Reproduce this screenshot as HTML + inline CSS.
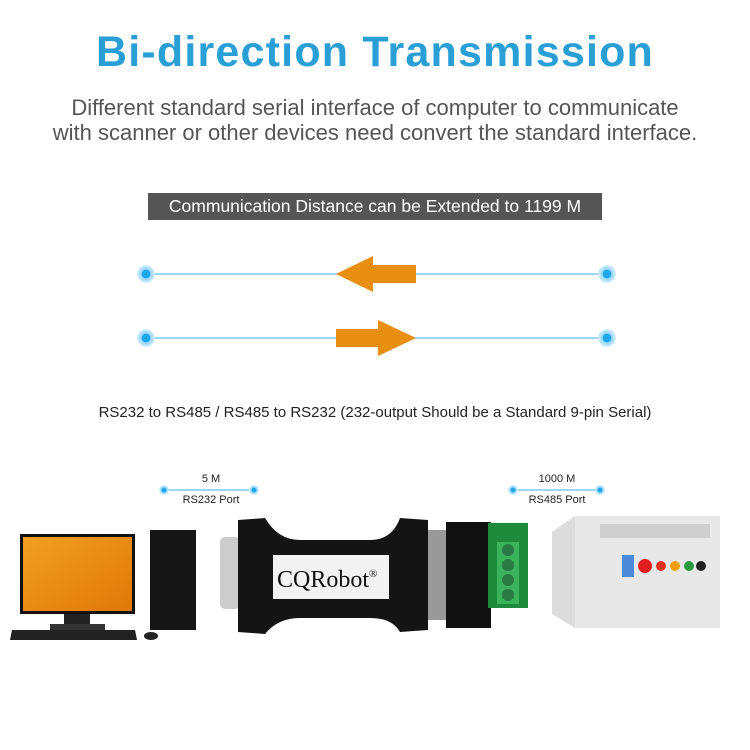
<!DOCTYPE html>
<html><head><style>
body{margin:0;width:750px;height:750px;background:#fff;position:relative;overflow:hidden;font-family:"Liberation Sans",sans-serif}
.a{position:absolute}
</style></head><body>
<div class="a" style="left:0;width:750px;top:28px;text-align:center;font-size:43px;font-weight:bold;color:#2a9fd6;letter-spacing:1.2px">Bi-direction Transmission</div>
<div class="a" style="left:0;width:750px;top:95px;text-align:center;font-size:22px;color:#555;line-height:25px;white-space:nowrap">Different standard serial interface of computer to communicate<br>with scanner or other devices need convert the standard interface.</div>
<div class="a" style="left:148px;top:193px;width:454px;height:27px;background:#555;color:#fff;font-size:17.5px;text-align:center;line-height:27px;white-space:nowrap">Communication Distance can be Extended to 1199 M</div>
<svg class="a" style="left:0;top:0" width="750" height="750">
<defs><radialGradient id="g"><stop offset="0.45" stop-color="#1ea7ea"/><stop offset="0.5" stop-color="#8fd3f5"/><stop offset="1" stop-color="#d9f1fc"/></radialGradient></defs>
<line x1="146" y1="274" x2="607" y2="274" stroke="#7cccf0" stroke-width="1.5"/>
<line x1="146" y1="338" x2="607" y2="338" stroke="#7cccf0" stroke-width="1.5"/>
<circle cx="146" cy="274" r="9" fill="url(#g)"/><circle cx="607" cy="274" r="9" fill="url(#g)"/>
<circle cx="146" cy="338" r="9" fill="url(#g)"/><circle cx="607" cy="338" r="9" fill="url(#g)"/>
<polygon points="336,274 373,256 373,265 416,265 416,283 373,283 373,292" fill="#e88e10"/>
<polygon points="416,338 378,320 378,329 336,329 336,347 378,347 378,356" fill="#e88e10"/>
<line x1="164" y1="490" x2="254" y2="490" stroke="#7cccf0" stroke-width="1.5"/>
<circle cx="164" cy="490" r="5" fill="url(#g)"/><circle cx="254" cy="490" r="5" fill="url(#g)"/>
<line x1="513" y1="490" x2="600" y2="490" stroke="#7cccf0" stroke-width="1.5"/>
<circle cx="513" cy="490" r="5" fill="url(#g)"/><circle cx="600" cy="490" r="5" fill="url(#g)"/>
<text x="211" y="482" font-size="11" text-anchor="middle" fill="#222">5 M</text>
<text x="211" y="503" font-size="11" text-anchor="middle" fill="#222">RS232 Port</text>
<text x="557" y="482" font-size="11" text-anchor="middle" fill="#222">1000 M</text>
<text x="557" y="503" font-size="11" text-anchor="middle" fill="#222">RS485 Port</text>
<rect x="20" y="534" width="115" height="80" fill="#111"/>
<defs><linearGradient id="o" x1="0" y1="0" x2="1" y2="1"><stop offset="0" stop-color="#f0a020"/><stop offset="1" stop-color="#e07808"/></linearGradient></defs>
<rect x="23" y="537" width="109" height="74" fill="url(#o)"/>
<rect x="64" y="614" width="26" height="14" fill="#222"/>
<rect x="50" y="624" width="55" height="6" fill="#333"/>
<polygon points="12,630 135,630 137,640 10,640" fill="#222"/>
<ellipse cx="151" cy="636" rx="7" ry="4" fill="#222"/>
<rect x="150" y="530" width="46" height="100" fill="#151515"/>
<rect x="220" y="537" width="20" height="72" rx="5" fill="#ccc"/>
<path d="M238,520 L265,518 Q278,540 300,540 L370,540 Q392,540 400,518 L428,520 L428,630 L400,632 Q392,618 370,618 L300,618 Q278,618 265,634 L238,632 Z" fill="#141414"/>
<rect x="273" y="555" width="116" height="44" fill="#f2f2f2"/>
<text x="277" y="587" font-family="Liberation Serif" font-size="24" fill="#111">CQRobot<tspan font-size="11" dy="-10">®</tspan></text>
<rect x="428" y="530" width="20" height="90" fill="#999"/>
<rect x="446" y="522" width="45" height="106" fill="#111"/>
<rect x="488" y="523" width="40" height="85" fill="#1e8a3c"/>
<rect x="497" y="542" width="22" height="62" fill="#3bb25c"/>
<circle cx="508" cy="550" r="6" fill="#2a7a45"/><circle cx="508" cy="565" r="6" fill="#2a7a45"/><circle cx="508" cy="580" r="6" fill="#2a7a45"/><circle cx="508" cy="595" r="6" fill="#2a7a45"/>
<polygon points="552,532 575,516 720,516 720,620 575,628 552,614" fill="#dcdcdc"/>
<rect x="575" y="516" width="145" height="112" fill="#e8e8e8"/>
<rect x="600" y="524" width="110" height="14" fill="#cfcfcf"/>
<circle cx="645" cy="566" r="7" fill="#e02020"/><circle cx="661" cy="566" r="5" fill="#e03020"/><circle cx="675" cy="566" r="5" fill="#f0a000"/><circle cx="689" cy="566" r="5" fill="#2a9a40"/><circle cx="701" cy="566" r="5" fill="#222"/>
<rect x="622" y="555" width="12" height="22" fill="#4a8ad8"/>
</svg>
<div class="a" style="left:0;width:750px;top:404px;text-align:center;font-size:15px;color:#222;white-space:nowrap">RS232 to RS485 / RS485 to RS232 (232-output Should be a Standard 9-pin Serial)</div>
</body></html>
